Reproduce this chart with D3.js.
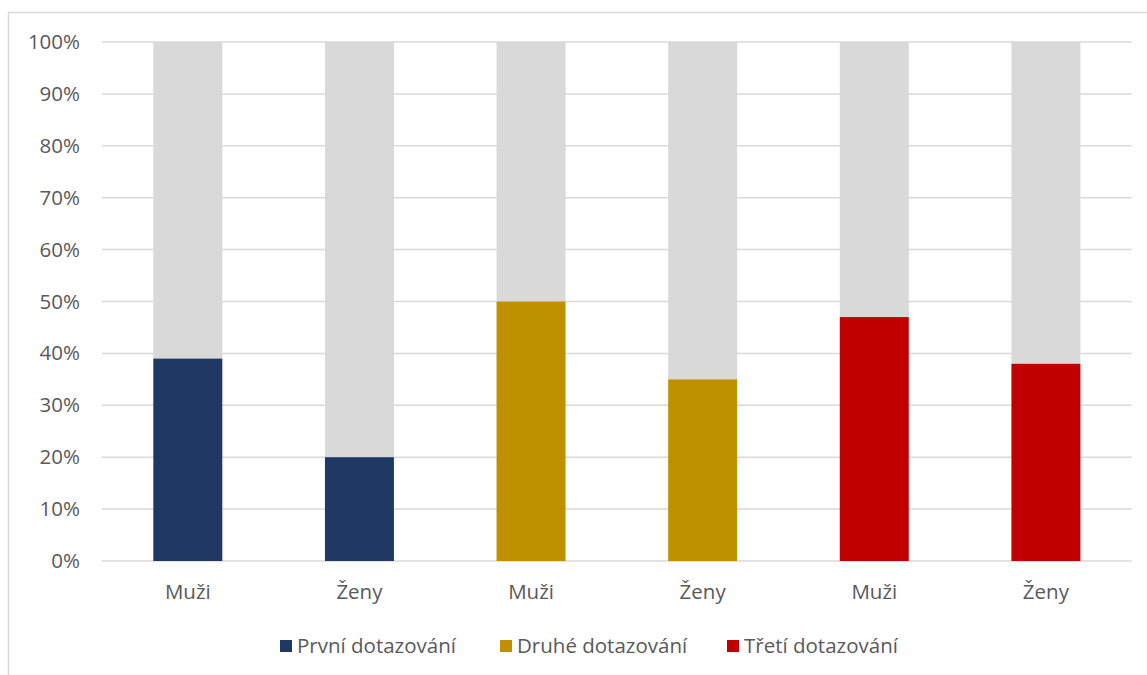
<!DOCTYPE html>
<html><head><meta charset="utf-8">
<script src="https://cdn.jsdelivr.net/npm/d3@7"></script>
<style>body{margin:0;background:#fff}svg{display:block}</style>
</head><body>
<svg id="c" width="1147" height="675"></svg>
<script>
const categories = ["Muži","Ženy","Muži","Ženy","Muži","Ženy"];
const values = [39, 20, 50, 35, 47, 38];
const seriesOfBar = [0, 0, 1, 1, 2, 2];
const seriesNames = ["První dotazování","Druhé dotazování","Třetí dotazování"];
const seriesColors = ["#1f3864","#bf9000","#c00000"];
const yTicks = [0,10,20,30,40,50,60,70,80,90,100];

const svg = d3.select("#c");
const font = "'Open Sans', sans-serif";
const fs = 20.5;
const textColor = "#595959";

// chart border (cropped on right/bottom)
svg.append("path").attr("d","M8.5,675 V12.5 H1147").attr("fill","none").attr("stroke","#d9d9d9").attr("stroke-width",1.5);

const x = d3.scaleBand().domain(d3.range(categories.length)).range([102, 1131.7]).paddingInner(0.598).paddingOuter(0.299);
const y = d3.scaleLinear().domain([0,100]).range([561, 42]);

// gridlines
svg.append("g").selectAll("line").data(yTicks).join("line")
  .attr("x1",102).attr("x2",1131.7).attr("y1",d=>y(d)).attr("y2",d=>y(d))
  .attr("stroke","#d9d9d9").attr("stroke-width",1.5);

// y axis labels
const yAxis = d3.axisLeft(y).tickValues(yTicks).tickFormat(d=>d+"%").tickSize(0).tickPadding(0);
const ya = svg.append("g").attr("transform","translate(80,0)").call(yAxis);
ya.select(".domain").remove();
ya.selectAll("text").attr("font-family",font).attr("font-size",fs).attr("fill",textColor);

// bars: grey remainder then colored
const bars = svg.append("g");
bars.selectAll("rect.rest").data(values).join("rect").attr("class","rest")
  .attr("x",(d,i)=>x(i)).attr("width",x.bandwidth())
  .attr("y",y(100)).attr("height",d=>y(d)-y(100)).attr("fill","#d9d9d9");
bars.selectAll("rect.val").data(values).join("rect").attr("class","val")
  .attr("x",(d,i)=>x(i)).attr("width",x.bandwidth())
  .attr("y",d=>y(d)).attr("height",d=>y(0)-y(d)).attr("fill",(d,i)=>seriesColors[seriesOfBar[i]]);

// x axis labels
const xAxis = d3.axisBottom(x).tickFormat(i=>categories[i]).tickSize(0).tickPadding(0);
const xa = svg.append("g").attr("transform","translate(0,584)").call(xAxis);
xa.select(".domain").remove();
xa.selectAll("text").attr("font-family",font).attr("font-size",fs).attr("fill",textColor).attr("dy","0.71em");

// legend
const legendX = [280, 500, 727];
const lg = svg.append("g").selectAll("g").data(seriesNames).join("g")
  .attr("transform",(d,i)=>`translate(${legendX[i]},640)`);
lg.append("rect").attr("width",12).attr("height",12).attr("fill",(d,i)=>seriesColors[i]);
lg.append("text").attr("x",17).attr("y",6).attr("dy","0.35em").text(d=>d)
  .attr("font-family",font).attr("font-size",fs).attr("fill",textColor);
</script>
</body></html>
